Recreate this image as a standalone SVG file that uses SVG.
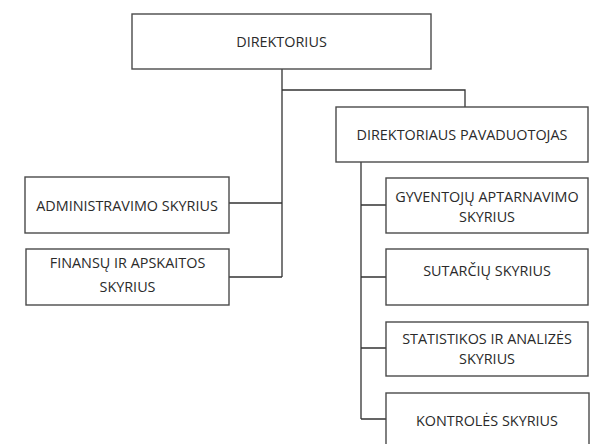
<svg xmlns="http://www.w3.org/2000/svg" width="600" height="444" viewBox="0 0 600 444">
<style>
.box{fill:#fff;stroke:#4a4a4a;stroke-width:1.4}
.ln{fill:none;stroke:#333;stroke-width:1.3}
text{font-family:"Open Sans","Liberation Sans",sans-serif;font-size:14.4px;fill:#2a2a2a;text-anchor:middle}
</style>
<rect width="600" height="444" fill="#fff"/>
<g id="connectors">
<path class="ln" d="M282 69V277M282 90H465V107M229 203H282M229 277H282"/>
<path class="ln" d="M361 162V419M361 205H386M361 277H386M361 348H386M361 419H386"/>
</g>
<g id="direktorius"><rect class="box" x="132" y="14" width="299" height="55"/><text x="281.5" y="46.7">DIREKTORIUS</text></g>
<g id="pavaduotojas"><rect class="box" x="336" y="107" width="252" height="55"/><text x="462" y="139.7">DIREKTORIAUS PAVADUOTOJAS</text></g>
<g id="administravimo"><rect class="box" x="25" y="177" width="204" height="56"/><text x="127" y="210.5">ADMINISTRAVIMO SKYRIUS</text></g>
<g id="finansu"><rect class="box" x="26" y="249" width="203" height="56"/><text x="127.5" y="268">FINANSŲ IR APSKAITOS</text><text x="127.5" y="292">SKYRIUS</text></g>
<g id="gyventoju"><rect class="box" x="386" y="178" width="202" height="55"/><text x="487" y="201.5">GYVENTOJŲ APTARNAVIMO</text><text x="487" y="221.5">SKYRIUS</text></g>
<g id="sutarciu"><rect class="box" x="386" y="249" width="202" height="56"/><text x="487" y="275.5">SUTARČIŲ SKYRIUS</text></g>
<g id="statistikos"><rect class="box" x="386" y="322" width="202" height="54"/><text x="487" y="344">STATISTIKOS IR ANALIZĖS</text><text x="487" y="364">SKYRIUS</text></g>
<g id="kontroles"><rect class="box" x="386" y="393" width="203" height="60"/><text x="487" y="426">KONTROLĖS SKYRIUS</text></g>
</svg>
